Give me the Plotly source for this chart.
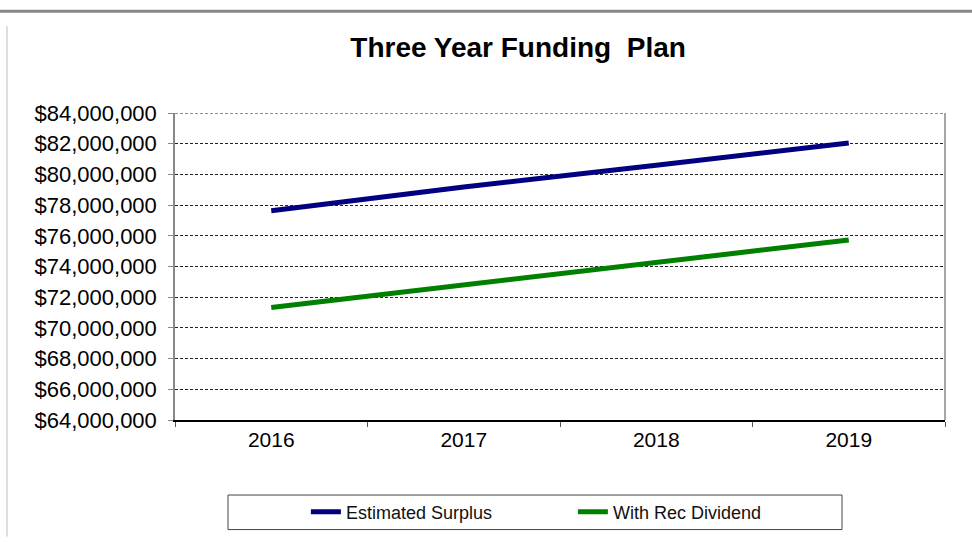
import plotly.graph_objects as go

# Funding plan figures
years = ["2016", "2017", "2018", "2019"]
estimated_surplus = [77_630_000, 79_180_000, 80_600_000, 82_050_000]
with_rec_dividend = [71_330_000, 72_800_000, 74_200_000, 75_730_000]
y_ticks = list(range(64_000_000, 84_000_001, 2_000_000))
y_tick_labels = [f"${v:,}" for v in y_ticks]

FONT = "Liberation Sans, Arial, sans-serif"
GRID_DASH = "3px,2px"

fig = go.Figure()
fig.add_trace(go.Scatter(x=years, y=estimated_surplus, mode="lines",
                         name="Estimated Surplus",
                         line=dict(color="#000080", width=5)))
fig.add_trace(go.Scatter(x=years, y=with_rec_dividend, mode="lines",
                         name="With Rec Dividend",
                         line=dict(color="#008000", width=5)))

fig.update_layout(
    width=972, height=542,
    margin=dict(l=175, r=27, t=113, b=118),
    paper_bgcolor="white", plot_bgcolor="white",
    font=dict(family=FONT, color="black"),
    title=dict(text="<b>Three Year Funding  Plan</b>", x=0.533, xanchor="center",
               y=1 - 47 / 542, yanchor="middle",
               font=dict(size=28, family=FONT, color="black")),
    showlegend=True,
    legend=dict(orientation="h", x=0.17, xanchor="left", y=-0.3, yanchor="middle",
                bgcolor="rgba(0,0,0,0)", borderwidth=0,
                font=dict(size=18, family=FONT, color="#111"),
                entrywidth=222, entrywidthmode="pixels", itemwidth=30),
)

fig.update_xaxes(
    type="category", range=[-0.5, 3.5],
    showgrid=False, showline=True, linecolor="black", linewidth=1.5,
    ticks="outside", tickson="boundaries", ticklen=5, tickcolor="#555",
    tickfont=dict(size=21, family=FONT, color="black"),
    mirror=False, zeroline=False,
)
fig.update_yaxes(
    range=[64_000_000, 84_000_000],
    tickvals=y_ticks, ticktext=y_tick_labels,
    showgrid=True, gridcolor="#222", griddash=GRID_DASH, gridwidth=1,
    showline=True, linecolor="#888", linewidth=1.5,
    ticks="outside", ticklen=5, tickcolor="#888",
    tickfont=dict(size=22, family=FONT, color="black"),
    ticklabelstandoff=7, zeroline=False,
)

# top gridline at the range maximum
fig.add_shape(type="line", xref="paper", yref="y", x0=0, x1=1,
              y0=y_ticks[-1], y1=y_ticks[-1],
              line=dict(color="#222", width=1.2, dash=GRID_DASH))
# right border of the plot area
fig.add_shape(type="line", xref="paper", yref="paper", x0=1, x1=1, y0=0, y1=1,
              line=dict(color="#888", width=1.5))
# legend frame
fig.add_shape(type="rect", xref="paper", yref="paper",
              x0=(228 - 175) / 770, x1=(842 - 175) / 770,
              y0=-(535 - 424) / 311, y1=-(500 - 424) / 311,
              line=dict(color="#444", width=1))
# outer frame lines
fig.add_shape(type="line", xref="paper", yref="paper",
              x0=-175 / 770, x1=(972 - 175) / 770,
              y0=1 + (113 - 10) / 311, y1=1 + (113 - 10) / 311,
              line=dict(color="#888", width=3))
fig.add_shape(type="line", xref="paper", yref="paper",
              x0=-168 / 770, x1=-168 / 770,
              y0=-(542 - 424) / 311, y1=1 + (113 - 25) / 311,
              line=dict(color="#ddd", width=2))

fig.write_html("out.html")
